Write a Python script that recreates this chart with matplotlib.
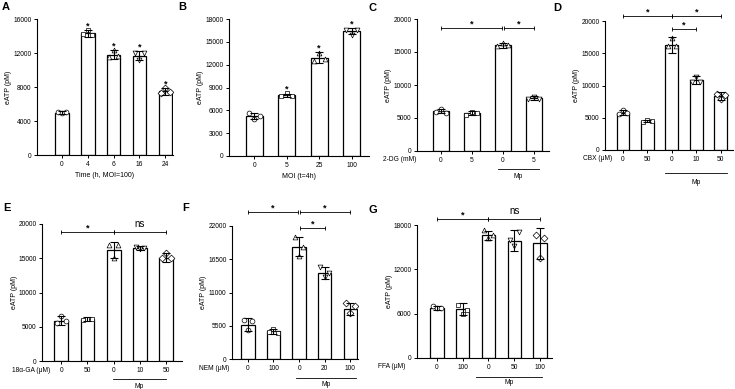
import numpy as np
import matplotlib
matplotlib.use('Agg')
import matplotlib.pyplot as plt
import matplotlib.transforms as mtransforms

plt.rcParams['font.family'] = ['Liberation Sans', 'DejaVu Sans']
plt.rcParams['axes.linewidth'] = 0.8

W, H = 735, 389

# ---- data ----
# A: time course
a_labels = ['0', '4', '6', '16', '24']
a_mean = [5000, 14300, 11800, 11700, 7500]
a_sd = [200, 400, 500, 500, 400]
a_pts = [[5100, 4900, 5050], [14200, 14700, 14100], [11500, 12300, 11600],
         [12000, 11200, 12000], [7300, 7900, 7400]]

# B: MOI
b_labels = ['0', '5', '25', '100']
b_mean = [5200, 8000, 12900, 16400]
b_sd = [400, 200, 700, 400]
b_pts = [[5600, 4800, 5300], [7900, 8300, 7900], [12500, 13500, 12800],
         [16600, 15900, 16600]]

# C: 2-DG
c_labels = ['0', '5', '0', '5']
c_mean = [6000, 5700, 16000, 8000]
c_sd = [300, 300, 400, 300]
c_pts = [[5900, 6300, 5800], [5500, 5900, 5700], [15900, 16400, 16000],
         [7900, 8200, 7900]]

# D: CBX
d_labels = ['0', '50', '0', '10', '50']
d_mean = [5800, 4500, 16300, 10800, 8400]
d_sd = [400, 200, 1200, 600, 600]
d_pts = [[5600, 6200, 5700], [4300, 4600, 4500], [16100, 17400, 16200],
         [10500, 11300, 10600], [8700, 7900, 8600]]

# E: 18a-GA
e_labels = ['0', '50', '0', '10', '50']
e_mean = [5900, 6100, 16200, 16500, 15100]
e_sd = [600, 300, 1200, 300, 600]
e_pts = [[5600, 6500, 5900], [6000, 6200, 6100], [17000, 15100, 16900],
         [16600, 16300, 16500], [15000, 15700, 15000]]

# F: NEM
f_labels = ['0', '100', '0', '20', '100']
f_mean = [5700, 4600, 18600, 14300, 8300]
f_sd = [1100, 400, 1600, 1000, 1000]
f_pts = [[6400, 4800, 6300], [4500, 4900, 4300], [20200, 17000, 18500],
         [15300, 13600, 14200], [9200, 7600, 8700]]

# G: FFA
g_labels = ['0', '100', '0', '50', '100']
g_mean = [6800, 6600, 16600, 15900, 15500]
g_sd = [300, 800, 600, 1400, 2100]
g_pts = [[7000, 6800, 6700], [7200, 5900, 6500], [17300, 16200, 16600],
         [16000, 15200, 17000], [16600, 13500, 16200]]

markers = ['o', 's', '^', 'v', 'D']

fig = plt.figure(figsize=(W / 100, H / 100), dpi=100)


def make_ax(l, r, t, b):
    return fig.add_axes([l / W, 1 - b / H, (r - l) / W, (b - t) / H])


def draw_bars(ax, means, sds, pts, xlim, ymax, ystep):
    x = np.arange(len(means))
    ax.bar(x, means, width=0.52, color='white', edgecolor='black', linewidth=0.9, zorder=2)
    ax.errorbar(x, means, yerr=sds, fmt='none', ecolor='black', elinewidth=0.8,
                capsize=3, capthick=0.8, zorder=4)
    for i, p in enumerate(pts):
        ax.scatter(x[i] + np.array([-0.17, 0.0, 0.17]), p, marker=markers[i % 5], s=12,
                   facecolor='white', edgecolor='black', linewidth=0.5, zorder=3)
    ax.set_xlim(*xlim)
    ax.set_ylim(0, ymax)
    ax.set_yticks(np.arange(0, ymax + 1, ystep))
    ax.set_xticks(x)
    ax.spines['top'].set_visible(False)
    ax.spines['right'].set_visible(False)
    ax.tick_params(direction='out', length=2.5, width=0.7, labelsize=4.8, pad=1.5)
    ax.set_ylabel('eATP (pM)', fontsize=5, labelpad=0.5)


def stars_over(ax, means, sds, ymax, skip_first=True):
    for i, (m, s) in enumerate(zip(means, sds)):
        if skip_first and i == 0:
            continue
        ax.text(i, m + s + 0.03 * ymax, '*', ha='center', va='center', fontsize=6.5,
                fontweight='bold')


def sig(ax, x0, x1, y, label, ymax):
    ax.plot([x0, x1], [y, y], color='black', lw=0.6, clip_on=False, zorder=5)
    ax.plot([x0, x1], [y, y], ls='none', marker='|', ms=3.5, mew=0.6, color='black',
            clip_on=False, zorder=5)
    if label == 'ns':
        ax.text((x0 + x1) / 2, y + 0.02 * ymax, 'ns', ha='center', va='bottom', fontsize=7)
    else:
        ax.text((x0 + x1) / 2, y + 0.03 * ymax, '*', ha='center', va='center', fontsize=6.5,
                fontweight='bold')


def group_label(ax, text, xdata, off_px=9):
    ax.annotate(text, xy=(xdata, 0), xycoords=('data', 'axes fraction'),
                xytext=(0, -off_px), textcoords='offset pixels',
                ha='right', va='center', fontsize=4.8)


def mp_line(ax, x0, x1, line_off, text_off):
    bt = mtransforms.blended_transform_factory(ax.transData, ax.transAxes)
    h_px = ax.get_position().height * H
    yl = -line_off / h_px
    ax.plot([x0, x1], [yl, yl], color='black', lw=0.6, transform=bt, clip_on=False)
    ax.text((x0 + x1) / 2, -text_off / h_px, 'Mp', transform=bt, ha='center',
            va='center', fontsize=4.8)


def letter(x, y, s):
    fig.text(x / W, 1 - y / H, s, fontsize=8, fontweight='bold', ha='left', va='center')


# A
ax = make_ax(37, 173, 19, 155)
draw_bars(ax, a_mean, a_sd, a_pts, (-0.97, 4.3), 16000, 4000)
ax.set_xticklabels(a_labels)
ax.set_xlabel('Time (h, MOI=100)', fontsize=5, labelpad=3)
stars_over(ax, a_mean, a_sd, 16000)
letter(2, 7, 'A')

# B
ax = make_ax(229, 369, 19, 156)
draw_bars(ax, b_mean, b_sd, b_pts, (-0.77, 3.53), 18000, 3000)
ax.set_xticklabels(b_labels)
ax.set_xlabel('MOI (t=4h)', fontsize=5, labelpad=3)
stars_over(ax, b_mean, b_sd, 18000)
letter(178, 7, 'B')

# C
ax = make_ax(417, 549, 19, 151)
draw_bars(ax, c_mean, c_sd, c_pts, (-0.77, 3.5), 20000, 5000)
ax.set_xticklabels(c_labels)
group_label(ax, '2-DG (mM)', -0.8)
mp_line(ax, 1.84, 3.19, 18, 26)
sig(ax, 0, 1.97, 18600, '*', 20000)
sig(ax, 2.03, 3, 18600, '*', 20000)
letter(368, 8, 'C')

# D
ax = make_ax(605, 733, 21, 150)
draw_bars(ax, d_mean, d_sd, d_pts, (-0.73, 4.5), 20000, 5000)
ax.set_xticklabels(d_labels)
group_label(ax, 'CBX (μM)', -0.45)
mp_line(ax, 1.71, 4.24, 23, 32)
sig(ax, 0, 2, 20800, '*', 20000)
sig(ax, 2, 4, 20800, '*', 20000)
sig(ax, 2, 3, 18800, '*', 20000)
letter(553, 8, 'D')

# E
ax = make_ax(42, 182, 224, 361)
draw_bars(ax, e_mean, e_sd, e_pts, (-0.73, 4.6), 20000, 5000)
ax.set_xticklabels(e_labels)
group_label(ax, '18α-GA (μM)', -0.42)
mp_line(ax, 1.96, 4.0, 18, 25)
sig(ax, 0, 2, 18800, '*', 20000)
sig(ax, 2, 4, 18800, 'ns', 20000)
letter(3, 208, 'E')

# F
ax = make_ax(232, 358, 226, 359)
draw_bars(ax, f_mean, f_sd, f_pts, (-0.62, 4.3), 22000, 5500)
ax.set_xticklabels(f_labels)
group_label(ax, 'NEM (μM)', -0.74)
mp_line(ax, 1.88, 4.22, 19, 26)
sig(ax, 0, 1.97, 24300, '*', 22000)
sig(ax, 2.03, 4, 24300, '*', 22000)
sig(ax, 2.03, 3, 21700, '*', 22000)
letter(182, 208, 'F')

# G
ax = make_ax(417, 552, 225, 358)
draw_bars(ax, g_mean, g_sd, g_pts, (-0.78, 4.47), 18000, 6000)
ax.set_xticklabels(g_labels)
group_label(ax, 'FFA (μM)', -1.25)
mp_line(ax, 1.52, 4.09, 19, 25)
sig(ax, 0, 2, 18800, '*', 18000)
sig(ax, 2, 4, 18800, 'ns', 18000)
letter(368, 210, 'G')

fig.savefig('out.png', dpi=100)
